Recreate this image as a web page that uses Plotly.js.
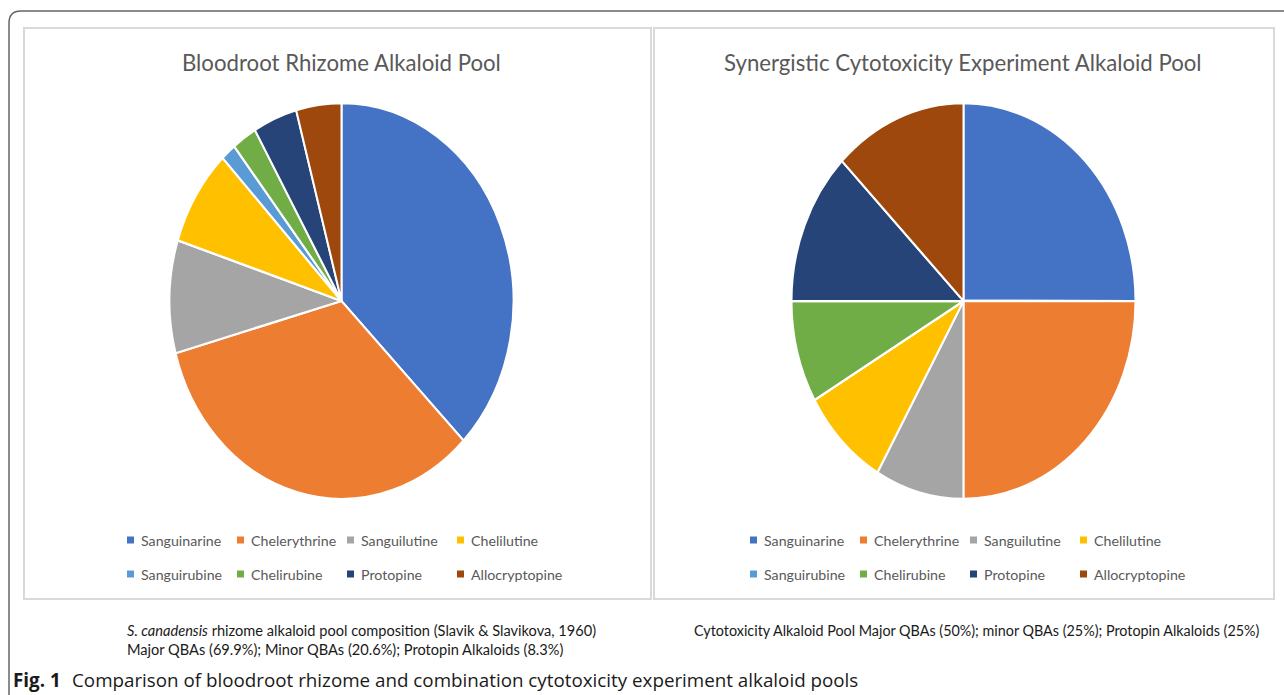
<!DOCTYPE html>
<html>
<head>
<meta charset="utf-8">
<script src="https://cdn.plot.ly/plotly-3.0.1.min.js"></script>
<style>
html,body{margin:0;padding:0;background:#fff;overflow:hidden;}
#wrap{position:relative;width:1284px;height:695px;}
#main{position:absolute;left:0;top:0;width:1284px;height:695px;}
#pies{position:absolute;left:0;top:0;width:1284px;height:695px;transform-origin:0 301px;transform:scaleY(1.151);pointer-events:none;}
</style>
</head>
<body>
<div id="wrap"><div id="main"></div><div id="pies"></div></div>
<script>
// ---- data ----
const categories = ['Sanguinarine','Chelerythrine','Sanguilutine','Chelilutine','Sanguirubine','Chelirubine','Protopine','Allocryptopine'];
const rhizomeValues = [37.0, 32.9, 9.1, 7.8, 1.4, 2.3, 4.1, 4.2];
const cytotoxValues = [25, 25, 8.33, 8.33, 0, 8.33, 12.5, 12.5];
const sliceColors = ['#4472C4','#ED7D31','#A5A5A5','#FFC000','#5B9BD5','#70AD47','#264478','#9E480E'];
const chartTitles = ['Bloodroot Rhizome Alkaloid Pool','Synergistic Cytotoxicity Experiment Alkaloid Pool'];
const leftCaption = ['<i>S. canadensis</i> rhizome alkaloid pool composition (Slavik &amp; Slavikova, 1960)','Major QBAs (69.9%); Minor QBAs (20.6%); Protopin Alkaloids (8.3%)'];
const rightCaption = 'Cytotoxicity Alkaloid Pool Major QBAs (50%); minor QBAs (25%); Protopin Alkaloids (25%)';
const figLabel = 'Fig. 1';
const figText = 'Comparison of bloodroot rhizome and combination cytotoxicity experiment alkaloid pools';

// ---- geometry helpers (pixel -> paper) ----
const W = 1284, H = 695;
const X = x => x / W;
const Y = y => 1 - y / H;

const TXT = '#595959';
const titleFont = {family: 'Lato, "Open Sans", sans-serif', size: 22.2, color: TXT};
const legFont = {family: 'Lato, "Open Sans", sans-serif', size: 14.2, color: TXT};
const capFont = {family: 'Lato, "Open Sans", sans-serif', size: 14.6, color: '#1a1a1a'};
const capFontR = {family: 'Lato, "Open Sans", sans-serif', size: 14.35, color: '#1a1a1a'};
const figFont = {family: '"Open Sans", sans-serif', size: 18.8, color: '#1a1a1a'};

const shapes = [];
const annotations = [];

// outer figure frame (rounded top-left corner)
shapes.push({type:'path', xref:'paper', yref:'paper',
  path: `M ${X(9)},${Y(700)} L ${X(9)},${Y(23)} Q ${X(9)},${Y(11)} ${X(21)},${Y(11)} L ${X(1290)},${Y(11)}`,
  line:{color:'#666666', width:1.5}});
// chart panels
[[24,651],[654,1274]].forEach(([a,b]) => {
  shapes.push({type:'rect', xref:'paper', yref:'paper', x0:X(a), x1:X(b), y0:Y(28), y1:Y(599),
    line:{color:'#d9d9d9', width:2}, fillcolor:'rgba(0,0,0,0)'});
});

// titles
const titleX = [341, 963];
chartTitles.forEach((t,i) => annotations.push({text:t, x:X(titleX[i]), y:Y(62), xref:'paper', yref:'paper',
  xanchor:'center', yanchor:'middle', showarrow:false, font:titleFont}));

// legends
const legStart = [139, 762];
const colStep = 110;
const rowY = [540, 574];
legStart.forEach(x0 => {
  categories.forEach((c,i) => {
    const col = i % 4, row = Math.floor(i / 4);
    const tx = x0 + col * colStep, ty = rowY[row];
    shapes.push({type:'rect', xref:'paper', yref:'paper', x0:X(tx-12), x1:X(tx-5), y0:Y(ty+3.5), y1:Y(ty-3.5),
      line:{width:0}, fillcolor:sliceColors[i]});
    annotations.push({text:c, x:X(tx), y:Y(ty), xref:'paper', yref:'paper', xanchor:'left', yanchor:'middle',
      showarrow:false, font:legFont});
  });
});

// captions
annotations.push({text:leftCaption[0], x:X(125), y:Y(630), xref:'paper', yref:'paper', xanchor:'left', yanchor:'middle', showarrow:false, font:capFont});
annotations.push({text:leftCaption[1], x:X(125), y:Y(649), xref:'paper', yref:'paper', xanchor:'left', yanchor:'middle', showarrow:false, font:capFont});
annotations.push({text:rightCaption, x:X(692), y:Y(630), xref:'paper', yref:'paper', xanchor:'left', yanchor:'middle', showarrow:false, font:capFontR});
annotations.push({text:'<b>'+figLabel+'</b>', x:X(11), y:Y(680), xref:'paper', yref:'paper', xanchor:'left', yanchor:'middle', showarrow:false,
  font:figFont});
annotations.push({text:figText, x:X(70), y:Y(680), xref:'paper', yref:'paper', xanchor:'left', yanchor:'middle', showarrow:false,
  font:figFont});

Plotly.newPlot('main', [], {
  width: W, height: H, margin:{l:0,r:0,t:0,b:0},
  paper_bgcolor:'#ffffff', plot_bgcolor:'#ffffff',
  xaxis:{visible:false, range:[0,1]}, yaxis:{visible:false, range:[0,1]},
  showlegend:false, shapes: shapes, annotations: annotations
}, {staticPlot:true, displayModeBar:false});

// pies (drawn in an overlay that is stretched vertically like the original)
const pieCY = 301, pieR = 172;
const pieCX = [341.5, 963.5];
const mkPie = (vals, cx) => ({
  type:'pie', labels: categories, values: vals, sort:false, direction:'clockwise', rotation:0,
  marker:{colors: sliceColors, line:{color:'#ffffff', width:2}},
  textinfo:'none', hoverinfo:'none', showlegend:false,
  domain:{x:[X(cx-pieR), X(cx+pieR)], y:[Y(pieCY+pieR), Y(pieCY-pieR)]}
});
Plotly.newPlot('pies', [mkPie(rhizomeValues, pieCX[0]), mkPie(cytotoxValues, pieCX[1])], {
  width: W, height: H, margin:{l:0,r:0,t:0,b:0},
  paper_bgcolor:'rgba(0,0,0,0)', plot_bgcolor:'rgba(0,0,0,0)', showlegend:false
}, {staticPlot:true, displayModeBar:false});
</script>
</body>
</html>
